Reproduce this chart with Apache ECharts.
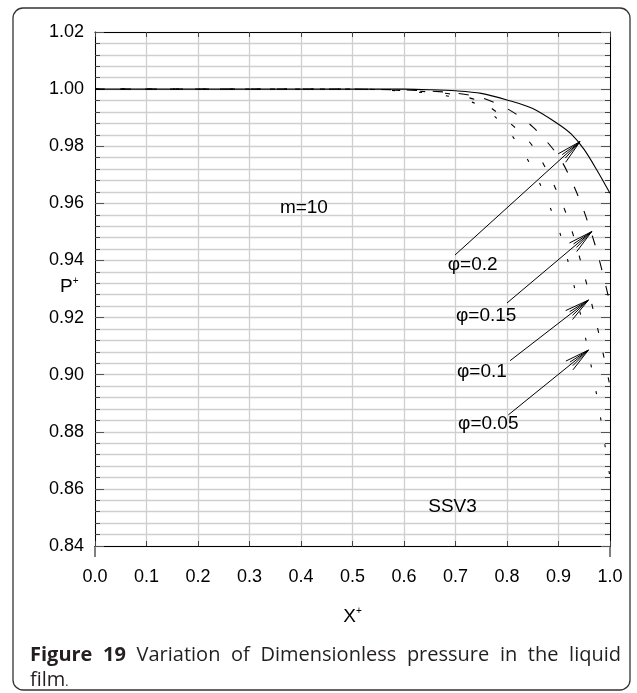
<!DOCTYPE html>
<html>
<head>
<meta charset="utf-8">
<script src="https://cdn.jsdelivr.net/npm/echarts@6/dist/echarts.min.js"></script>
<style>
html,body{margin:0;padding:0;background:#fff;}
#c{width:637px;height:693px;}
</style>
</head>
<body>
<div id="c"></div>
<script>
// ---- data ----
const xValues = [0, 0.1, 0.2, 0.3, 0.4, 0.5, 0.6, 0.65, 0.7, 0.75, 0.8, 0.85, 0.9, 0.925, 0.95, 0.975, 1.0];
const phi020 = [1, 1, 1, 1, 1, 1, 1.0, 0.9998, 0.9994, 0.9985, 0.9962, 0.9932, 0.9877, 0.9842, 0.9788, 0.9715, 0.9635];
const phi015 = [1, 1, 1, 1, 1, 1, 0.9997, 0.9993, 0.9986, 0.997, 0.9932, 0.9868, 0.9765, 0.968, 0.957, 0.943, 0.925];
const phi010 = [1, 1, 1, 1, 1, 1, 0.9995, 0.999, 0.998, 0.9955, 0.989, 0.980, 0.963, 0.951, 0.935, 0.917, 0.896];
const phi005 = [1, 1, 1, 1, 1, 1, 0.9993, 0.9985, 0.997, 0.994, 0.986, 0.972, 0.951, 0.935, 0.915, 0.892, 0.864];

const xTicks = ['0.0','0.1','0.2','0.3','0.4','0.5','0.6','0.7','0.8','0.9','1.0'];

// arrows: start (x0,y0) -> tip (x1,y1)
const arrowX0 = [0.699, 0.800, 0.806, 0.8025];
const arrowY0 = [0.9419, 0.9251, 0.9049, 0.8859];
const arrowX1 = [0.9417, 0.9645, 0.958, 0.958];
const arrowY1 = [0.9816, 0.9501, 0.9261, 0.9086];

// annotation labels
const labelText = ['\u03c6=0.2', '\u03c6=0.15', '\u03c6=0.1', '\u03c6=0.05', 'm=10', 'SSV3'];
const labelX = [0.685, 0.701, 0.703, 0.705, 0.359, 0.647];
const labelY = [0.9384, 0.9205, 0.9009, 0.8827, 0.9584, 0.8537];

// ---- chart ----
const chart = echarts.init(document.getElementById('c'), null, {renderer: 'canvas'});

function pairs(ys) { return xValues.map((x, i) => [x, ys[i]]); }

const baseFont = '"Liberation Sans", Arial, sans-serif';
const gridGray = '#cfcfcf';

const arrowData = arrowX0.map((x, i) => [x, arrowY0[i], arrowX1[i], arrowY1[i]]);
const labelData = labelText.map((t, i) => [labelX[i], labelY[i]]);

function renderArrow(params, api) {
  const p0 = api.coord([api.value(0), api.value(1)]);
  const p1 = api.coord([api.value(2), api.value(3)]);
  const ang = Math.atan2(p0[1] - p1[1], p0[0] - p1[0]);
  const children = [{
    type: 'line', shape: {x1: p0[0], y1: p0[1], x2: p1[0], y2: p1[1]},
    style: {stroke: '#000', lineWidth: 1}
  }];
  const barbs = [[13, 25], [-13, 25], [6, 22], [-6, 22]];
  barbs.forEach(b => {
    const a = ang + b[0] * Math.PI / 180;
    children.push({
      type: 'line',
      shape: {x1: p1[0], y1: p1[1], x2: p1[0] + b[1] * Math.cos(a), y2: p1[1] + b[1] * Math.sin(a)},
      style: {stroke: '#000', lineWidth: 1}
    });
  });
  return {type: 'group', children};
}

function renderLabel(params, api) {
  const p = api.coord([api.value(0), api.value(1)]);
  return {
    type: 'text',
    x: p[0], y: p[1],
    style: {text: labelText[params.dataIndex], font: '19px ' + baseFont, fill: '#000',
            textAlign: 'left', textVerticalAlign: 'middle'}
  };
}

const xCommon = {
  type: 'value', min: 0, max: 1, interval: 0.1,
  axisLine: {show: true, onZero: false, lineStyle: {color: '#000', width: 1}},
  axisTick: {show: true, inside: true, length: 5, lineStyle: {color: '#444'}},
};
const yCommon = {
  type: 'value', min: 0.84, max: 1.02, interval: 0.02,
  axisLine: {show: true, onZero: false, lineStyle: {color: '#000', width: 1}},
  axisTick: {show: true, inside: true, length: 9, lineStyle: {color: '#555'}},
  minorTick: {show: true, splitNumber: 5, length: 5, lineStyle: {color: '#444'}},
};

const option = {
  backgroundColor: '#fff',
  animation: false,
  grid: {left: 95, right: 27, top: 32, bottom: 147, containLabel: false},
  xAxis: [
    Object.assign({}, xCommon, {
      position: 'bottom',
      axisLabel: {show: true, fontSize: 18, fontFamily: baseFont, color: '#000', margin: 22,
                  formatter: (v) => xTicks[Math.round(v * 10)]},
      splitLine: {show: true, lineStyle: {color: gridGray, width: 1.3}},
      name: '{m|X}{s|+}', nameLocation: 'middle', nameGap: 60,
      nameTextStyle: {rich: {m: {fontSize: 19, fontFamily: baseFont, color: '#000', lineHeight: 22},
                             s: {fontSize: 10, fontFamily: baseFont, color: '#000', verticalAlign: 'top', lineHeight: 22}}}
    }),
    Object.assign({}, xCommon, {
      position: 'top',
      axisLabel: {show: false},
      splitLine: {show: false}
    })
  ],
  yAxis: [
    Object.assign({}, yCommon, {
      position: 'left',
      axisLabel: {show: true, fontSize: 18, fontFamily: baseFont, color: '#000', margin: 11,
                  formatter: (v) => v.toFixed(2)},
      splitLine: {show: true, lineStyle: {color: gridGray, width: 1.3}},
      minorSplitLine: {show: true, lineStyle: {color: gridGray, width: 1.3}}
    }),
    Object.assign({}, yCommon, {
      position: 'right',
      axisLabel: {show: false},
      splitLine: {show: false}
    })
  ],
  series: [
    {type: 'line', name: 'phi=0.2', data: pairs(phi020), showSymbol: false, smooth: 0.3,
     lineStyle: {color: '#000', width: 1.1, type: 'solid'}, z: 5},
    {type: 'line', name: 'phi=0.15', data: pairs(phi015), showSymbol: false, smooth: 0.3,
     lineStyle: {color: '#000', width: 1.1, type: [10, 16]}, z: 4},
    {type: 'line', name: 'phi=0.1', data: pairs(phi010), showSymbol: false, smooth: 0.3,
     lineStyle: {color: '#000', width: 1.1, type: [5, 20]}, z: 4},
    {type: 'line', name: 'phi=0.05', data: pairs(phi005), showSymbol: false, smooth: 0.3,
     lineStyle: {color: '#000', width: 1.1, type: [3, 24]}, z: 4},
    {type: 'custom', renderItem: renderArrow, data: arrowData, z: 6, silent: true},
    {type: 'custom', renderItem: renderLabel, data: labelData, z: 6, silent: true}
  ],
  graphic: []
};

// caption with justified first line
const capFontB = 'bold 20px "Open Sans", "Noto Sans", sans-serif';
const capFontN = '20px "Open Sans", "Noto Sans", sans-serif';
const line1 = [['Figure', true], ['19', true], ['Variation', false], ['of', false], ['Dimensionless', false],
               ['pressure', false], ['in', false], ['the', false], ['liquid', false]];
const cv = document.createElement('canvas').getContext('2d');
let widths = line1.map(w => { cv.font = w[1] ? capFontB : capFontN; return cv.measureText(w[0]).width; });
const leftX = 30, rightX = 621;
const total = widths.reduce((a, b) => a + b, 0);
const gap = (rightX - leftX - total) / (line1.length - 1);
let cx = leftX;
const g = [];
g.push({type: 'rect', shape: {x: 13, y: 8, width: 617, height: 682, r: 10},
        style: {fill: 'none', stroke: '#333', lineWidth: 1.3}, z: 0});
line1.forEach((w, i) => {
  g.push({type: 'text', x: cx, y: 655, style: {text: w[0], font: w[1] ? capFontB : capFontN, fill: '#231f20',
          textAlign: 'left', textVerticalAlign: 'middle'}});
  cx += widths[i] + gap;
});
g.push({type: 'text', x: leftX, y: 680, style: {text: 'film', font: capFontN, fill: '#231f20',
        textAlign: 'left', textVerticalAlign: 'middle'}});
cv.font = capFontN;
const filmW = cv.measureText('film').width;
g.push({type: 'text', x: leftX + filmW, y: 683, style: {text: '.', font: '12px "Open Sans", sans-serif', fill: '#231f20',
        textAlign: 'left', textVerticalAlign: 'middle'}});
// y axis title P+
g.push({type: 'text', x: 60, y: 287, style: {text: '{m|P}{s|+}', font: '19px ' + baseFont, fill: '#000',
        textAlign: 'left', textVerticalAlign: 'middle',
        rich: {m: {fontSize: 19, fontFamily: baseFont, lineHeight: 22}, s: {fontSize: 10, fontFamily: baseFont, verticalAlign: 'top', lineHeight: 22}}}});
// axis extensions below the bottom frame at x=0 and x=1
g.push({type: 'line', shape: {x1: 95, y1: 546, x2: 95, y2: 557}, style: {stroke: '#000', lineWidth: 1}});
g.push({type: 'line', shape: {x1: 610, y1: 546, x2: 610, y2: 557}, style: {stroke: '#000', lineWidth: 1}});
option.graphic = g;

chart.setOption(option);
</script>
</body>
</html>
